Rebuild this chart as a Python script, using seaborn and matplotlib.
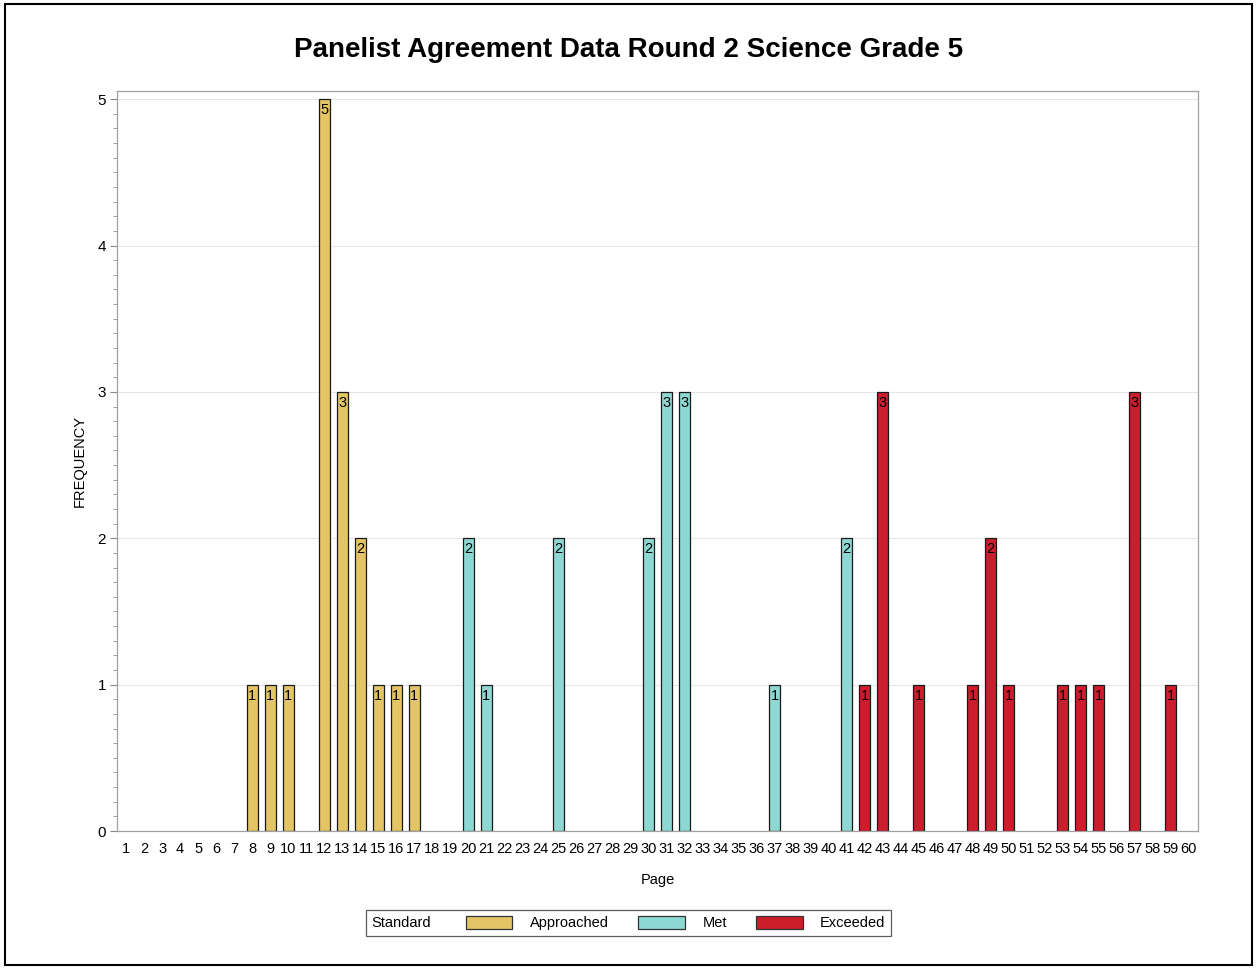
import matplotlib
matplotlib.use("Agg")
import matplotlib.pyplot as plt
import seaborn as sns
import pandas as pd
import numpy as np
from matplotlib.patches import Patch, Rectangle
from matplotlib.offsetbox import HPacker
from matplotlib.ticker import MultipleLocator

sns.set_theme(style="white")
plt.rcParams['font.family'] = ['Liberation Sans', 'DejaVu Sans']
plt.rcParams['text.color'] = 'black'
plt.rcParams['axes.labelcolor'] = 'black'
plt.rcParams['xtick.color'] = 'black'
plt.rcParams['ytick.color'] = 'black'

pages = [str(i) for i in range(1, 61)]

approached_pages = [8, 9, 10, 12, 13, 14, 15, 16, 17]
approached_freq = [1, 1, 1, 5, 3, 2, 1, 1, 1]
met_pages = [20, 21, 25, 30, 31, 32, 37, 41]
met_freq = [2, 1, 2, 2, 3, 3, 1, 2]
exceeded_pages = [42, 43, 45, 48, 49, 50, 53, 54, 55, 57, 59]
exceeded_freq = [1, 3, 1, 1, 2, 1, 1, 1, 1, 3, 1]

standards = ["Approached", "Met", "Exceeded"]
colors = {"Approached": "#E3C565", "Met": "#8ED8D3", "Exceeded": "#CC1D2D"}

rows = []
for p, f in zip(approached_pages, approached_freq):
    rows.append((str(p), f, "Approached"))
for p, f in zip(met_pages, met_freq):
    rows.append((str(p), f, "Met"))
for p, f in zip(exceeded_pages, exceeded_freq):
    rows.append((str(p), f, "Exceeded"))
df = pd.DataFrame(rows, columns=["Page", "Frequency", "Standard"])

fig = plt.figure(figsize=(12.57, 9.69), dpi=100)
ax = fig.add_axes([0.0931, 0.1424, 0.8599, 0.7636])

sns.barplot(data=df, x="Page", y="Frequency", hue="Standard", order=pages,
            hue_order=standards, palette=colors, dodge=False, width=0.62,
            saturation=1, edgecolor="#1a1a1a", linewidth=0.9, legend=False, ax=ax)

for c in ax.containers:
    anns = ax.bar_label(c, fmt="%d", padding=-3, fontsize=10.5, color="black")
    for a in anns:
        a.set_va("top")

ax.set_xlim(-0.5, 59.5)
ax.set_ylim(0, 5.055)
ax.yaxis.set_major_locator(MultipleLocator(1))
ax.yaxis.set_minor_locator(MultipleLocator(0.1))
ax.tick_params(axis="y", which="major", length=5, width=0.8, color="#888888",
               labelsize=11, left=True, pad=3, labelcolor="black")
ax.tick_params(axis="y", which="minor", length=3, width=0.6, color="#888888", left=True)
ax.tick_params(axis="x", length=0, labelsize=10.5, pad=8, labelcolor="black")
ax.grid(axis="y", which="major", color="#e6e6e6", linewidth=0.8)
ax.set_axisbelow(True)
for s in ax.spines.values():
    s.set_color("#a0a0a0")
    s.set_linewidth(0.9)

ax.set_xlabel("Page", fontsize=10.5, labelpad=12)
ax.set_ylabel("FREQUENCY", fontsize=10.5, labelpad=8)

fig.suptitle("Panelist Agreement Data Round 2 Science Grade 5", fontsize=20,
             fontweight="bold", y=0.962, color="black")

handles = [Patch(facecolor=colors[s], edgecolor="#333333", linewidth=0.9) for s in standards]
leg = fig.legend(handles, ["Approached", "Met", "Exceeded"], title="Standard",
                 loc="center", bbox_to_anchor=(0.5, 0.0475), ncol=3, frameon=True,
                 fontsize=10.5, title_fontsize=10.5, handlelength=3.2, handleheight=1.0,
                 handletextpad=1.2, columnspacing=2.0, borderpad=0.4, fancybox=False)
leg.get_frame().set_edgecolor("#333333")
leg.get_frame().set_linewidth(0.9)
try:
    vbox = leg.get_children()[0]
    title_box = leg._legend_title_box
    handle_box = leg._legend_handle_box
    vbox._children = [HPacker(children=[title_box, handle_box], align="center", pad=0, sep=25)]
except Exception:
    pass

fig.add_artist(Rectangle((0.004, 0.004), 0.992, 0.992, transform=fig.transFigure,
                         fill=False, edgecolor="black", linewidth=1.5))

fig.savefig("out.png", dpi=100)
